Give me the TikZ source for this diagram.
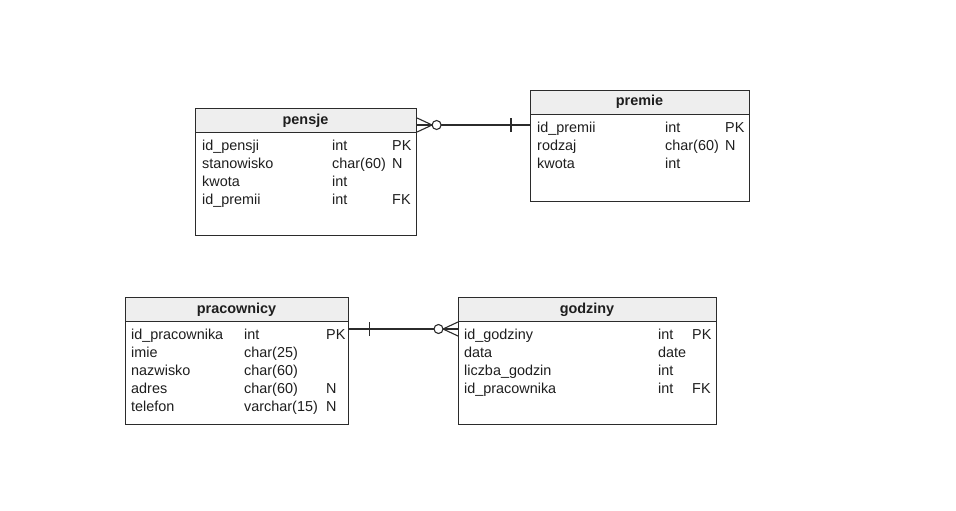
\documentclass[tikz,border=0pt]{standalone}
\usepackage{fontspec}
\setmainfont{Liberation Sans}
\begin{document}
\definecolor{linec}{HTML}{2B2B2B}
\definecolor{hdrfill}{HTML}{EEEEEE}
\definecolor{textc}{HTML}{1E1E1E}
\begin{tikzpicture}[x=1pt,y=-1pt,
  tablebox/.style={draw=linec,line width=1.1pt,fill=white,inner sep=0pt,anchor=north west},
  headbox/.style={draw=linec,line width=1.1pt,fill=hdrfill,inner sep=0pt,anchor=north west},
  title/.style={anchor=base,inner sep=0pt,text=textc,font=\fontsize{14.4}{16}\selectfont\bfseries},
  cell/.style={anchor=base west,inner sep=0pt,text=textc,font=\fontsize{14.4}{16}\selectfont},
  rel/.style={draw=linec,line width=1.1pt},
  ring/.style={draw=linec,line width=1.1pt,fill=white}]
\useasboundingbox (0,0) rectangle (956,511);

% ---------- pensje ----------
\node[tablebox,minimum width=221pt,minimum height=127pt] (pensje) at (195,108) {};
\node[headbox,minimum width=221pt,minimum height=24pt] (pensje-h) at (195,108) {};
\node[title] (pensje-t) at (305.5,124) {pensje};
\node[cell] (pe-n1) at (202,150) {id\_pensji};
\node[cell] (pe-t1) at (332,150) {int};
\node[cell] (pe-k1) at (392,150) {PK};
\node[cell] (pe-n2) at (202,168) {stanowisko};
\node[cell] (pe-t2) at (332,168) {char(60)};
\node[cell] (pe-k2) at (392,168) {N};
\node[cell] (pe-n3) at (202,186) {kwota};
\node[cell] (pe-t3) at (332,186) {int};
\node[cell] (pe-n4) at (202,204) {id\_premii};
\node[cell] (pe-t4) at (332,204) {int};
\node[cell] (pe-k4) at (392,204) {FK};

% ---------- premie ----------
\node[tablebox,minimum width=219pt,minimum height=111pt] (premie) at (530,90) {};
\node[headbox,minimum width=219pt,minimum height=24pt] (premie-h) at (530,90) {};
\node[title] (premie-t) at (639.5,106) {premie};
\node[cell] (pr-n1) at (537,132) {id\_premii};
\node[cell] (pr-t1) at (665,132) {int};
\node[cell] (pr-k1) at (725,132) {PK};
\node[cell] (pr-n2) at (537,150) {rodzaj};
\node[cell] (pr-t2) at (665,150) {char(60)};
\node[cell] (pr-k2) at (725,150) {N};
\node[cell] (pr-n3) at (537,168) {kwota};
\node[cell] (pr-t3) at (665,168) {int};

% ---------- pracownicy ----------
\node[tablebox,minimum width=223pt,minimum height=127pt] (prac) at (125,297) {};
\node[headbox,minimum width=223pt,minimum height=24pt] (prac-h) at (125,297) {};
\node[title] (prac-t) at (236.5,313) {pracownicy};
\node[cell] (pc-n1) at (131,339) {id\_pracownika};
\node[cell] (pc-t1) at (244,339) {int};
\node[cell] (pc-k1) at (326,339) {PK};
\node[cell] (pc-n2) at (131,357) {imie};
\node[cell] (pc-t2) at (244,357) {char(25)};
\node[cell] (pc-n3) at (131,375) {nazwisko};
\node[cell] (pc-t3) at (244,375) {char(60)};
\node[cell] (pc-n4) at (131,393) {adres};
\node[cell] (pc-t4) at (244,393) {char(60)};
\node[cell] (pc-k4) at (326,393) {N};
\node[cell] (pc-n5) at (131,411) {telefon};
\node[cell] (pc-t5) at (244,411) {varchar(15)};
\node[cell] (pc-k5) at (326,411) {N};

% ---------- godziny ----------
\node[tablebox,minimum width=258pt,minimum height=127pt] (godz) at (458,297) {};
\node[headbox,minimum width=258pt,minimum height=24pt] (godz-h) at (458,297) {};
\node[title] (godz-t) at (587,313) {godziny};
\node[cell] (go-n1) at (464,339) {id\_godziny};
\node[cell] (go-t1) at (658,339) {int};
\node[cell] (go-k1) at (692,339) {PK};
\node[cell] (go-n2) at (464,357) {data};
\node[cell] (go-t2) at (658,357) {date};
\node[cell] (go-n3) at (464,375) {liczba\_godzin};
\node[cell] (go-t3) at (658,375) {int};
\node[cell] (go-n4) at (464,393) {id\_pracownika};
\node[cell] (go-t4) at (658,393) {int};
\node[cell] (go-k4) at (692,393) {FK};

% ---------- pensje (many, optional) -- premie (one) ----------
\coordinate (r1a) at ([yshift=-17pt]pensje.north east);
\coordinate (r1b) at (r1a -| premie.west);
\draw[rel] (r1a) -- (r1b);
\draw[rel] ([yshift=-7pt]r1a) -- ([xshift=15pt]r1a) -- ([yshift=7pt]r1a);
\draw[rel] ([xshift=-19pt,yshift=-7pt]r1b) -- ([xshift=-19pt,yshift=7pt]r1b);
\draw[ring] ([xshift=19.5pt]r1a) circle (4.5pt);

% ---------- pracownicy (one) -- godziny (many, optional) ----------
\coordinate (r2a) at ([yshift=-32pt]prac.north east);
\coordinate (r2b) at (r2a -| godz.west);
\draw[rel] (r2a) -- (r2b);
\draw[rel] ([xshift=20pt,yshift=-7pt]r2a) -- ([xshift=20pt,yshift=7pt]r2a);
\draw[rel] ([yshift=-7pt]r2b) -- ([xshift=-15pt]r2b) -- ([yshift=7pt]r2b);
\draw[ring] ([xshift=-19.5pt]r2b) circle (4.5pt);
\end{tikzpicture}
\end{document}
